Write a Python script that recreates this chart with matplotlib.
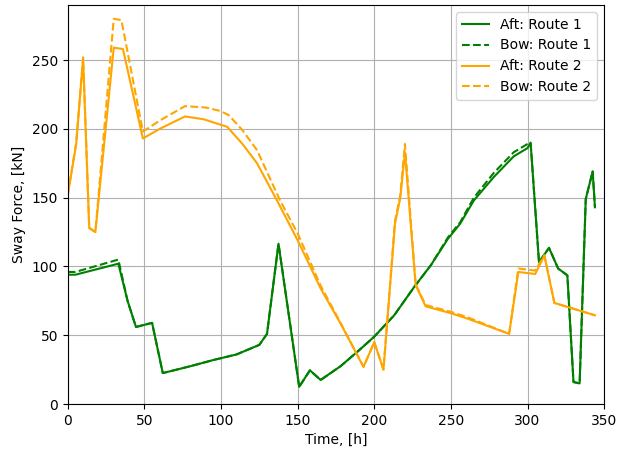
import matplotlib
matplotlib.use("Agg")
import matplotlib.pyplot as plt

# Route 1 (green)
t_aft_r1 = [0, 5, 33, 39, 44.5, 55, 62, 80, 95, 110, 125, 130, 137.5, 151, 158, 165,
            178, 190, 200, 213, 226, 237, 248, 256, 265, 278, 291, 300, 302, 307.5,
            314, 320, 326, 330, 334, 338, 342.5, 344]
f_aft_r1 = [94, 94, 102, 75, 56, 59, 22.5, 27.5, 32, 36, 43, 51, 116.5, 12.5, 24.5, 17.5,
            27.5, 39, 49, 64.5, 85, 101, 120, 131, 148, 165, 180, 186, 190, 103,
            113.5, 98.5, 93.5, 16, 15, 149, 169, 143]
t_bow_r1 = t_aft_r1
f_bow_r1 = [96, 96, 105, 75, 56, 59, 22.5, 27.5, 32, 36, 43, 51, 116.5, 12.5, 24.5, 17.5,
            27.5, 39, 49, 64.5, 85, 101, 121, 132, 150, 168, 183, 189, 190, 103,
            113.5, 98.5, 93.5, 16, 15, 149, 169, 143]

# Route 2 (orange)
t_aft_r2 = [0, 5.5, 10, 14, 18, 30, 36, 49, 60, 76.5, 88.5, 104, 114, 123.5, 136.5, 150, 165,
            178, 193, 200, 206, 213.5, 217, 220, 227, 233.5, 250, 261, 288, 294, 305,
            311, 317.5, 344]
f_aft_r2 = [152, 189, 251, 128, 125, 259, 258, 193, 200, 209, 207, 201.5, 189, 175, 148, 119, 84,
            58.5, 27, 45, 25, 131, 150, 183, 86.5, 71, 66, 62, 51, 96, 94.5,
            108, 73.5, 64.5]
t_bow_r2 = [0, 5.5, 10, 14, 18, 30, 35, 49, 60, 76.5, 90, 99.5, 105, 114, 123.5, 138.5, 150, 165,
            178, 193, 200, 206, 213.5, 217, 220, 227, 233.5, 250, 261, 288, 294, 305,
            311, 317.5, 344]
f_bow_r2 = [152, 190, 252, 128, 125, 280, 279, 198, 206, 216.5, 215.5, 213, 210, 199, 184.5, 148, 124, 86,
            59, 27, 45, 25, 133, 152, 189, 87, 72, 67, 63, 51, 98.5, 97,
            108, 73.5, 64.5]

fig = plt.figure(figsize=(6.19, 4.55), dpi=100)
ax = fig.add_axes([0.1095, 0.112, 0.8665, 0.877])

ax.plot(t_aft_r1, f_aft_r1, color="green", linestyle="-", lw=1.5, label="Aft: Route 1")
ax.plot(t_bow_r1, f_bow_r1, color="green", linestyle="--", lw=1.5, label="Bow: Route 1")
ax.plot(t_aft_r2, f_aft_r2, color="orange", linestyle="-", lw=1.5, label="Aft: Route 2")
ax.plot(t_bow_r2, f_bow_r2, color="orange", linestyle="--", lw=1.5, label="Bow: Route 2")

ax.set_xlim(0, 350)
ax.set_ylim(0, 290)
ax.set_xlabel("Time, [h]")
ax.set_ylabel("Sway Force, [kN]")
ax.grid(True)
ax.legend(loc="upper right")

fig.savefig("out.png", dpi=100)
